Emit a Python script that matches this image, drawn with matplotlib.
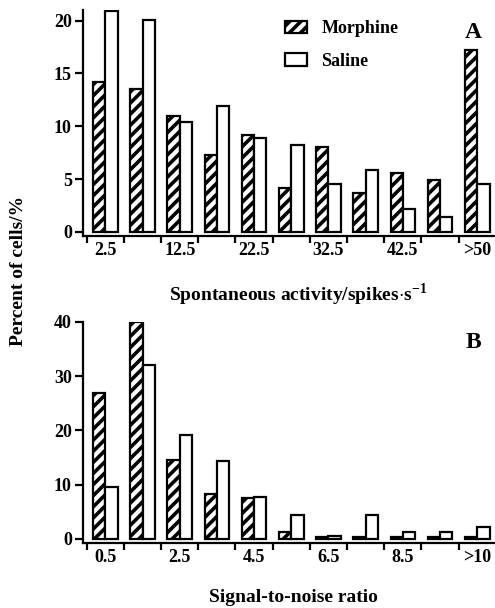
import numpy as np
import matplotlib
matplotlib.use('Agg')
import matplotlib.pyplot as plt
from matplotlib.patches import Patch

plt.rcParams['font.family'] = ['Liberation Serif', 'DejaVu Serif']
plt.rcParams['font.weight'] = 'bold'
plt.rcParams['mathtext.fontset'] = 'custom'
plt.rcParams['mathtext.rm'] = 'Liberation Serif:bold'
plt.rcParams['mathtext.bf'] = 'Liberation Serif:bold'
plt.rcParams['hatch.linewidth'] = 2.6

# Panel A: spontaneous activity bins (spikes/s)
act_bins = ['2.5', '7.5', '12.5', '17.5', '22.5', '27.5', '32.5', '37.5', '42.5', '47.5', '>50']
act_morphine = [14.2, 13.5, 11.0, 7.3, 9.2, 4.2, 8.0, 3.7, 5.6, 4.9, 17.2]
act_saline = [20.9, 20.1, 10.4, 11.9, 8.9, 8.2, 4.5, 5.9, 2.2, 1.4, 4.5]

# Panel B: signal-to-noise ratio bins
snr_bins = ['0.5', '1.5', '2.5', '3.5', '4.5', '5.5', '6.5', '7.5', '8.5', '9.5', '>10']
snr_morphine = [26.8, 40.0, 14.5, 8.3, 7.5, 1.2, 0.4, 0.3, 0.3, 0.3, 0.3]
snr_saline = [9.5, 32.0, 19.1, 14.4, 7.8, 4.5, 0.6, 4.5, 1.3, 1.3, 2.2]

W, H = 495, 608
fig = plt.figure(figsize=(W / 100, H / 100), dpi=100)

def px_axes(left, right, top, bottom):
    return fig.add_axes([left / W, 1 - bottom / H, (right - left) / W, (bottom - top) / H])

def draw_panel(ax, bins, morph, sal, ymax, yoff, yticks, letter, letter_y):
    x = np.arange(len(bins)) + 0.5
    bw = 0.33
    ax.bar(x - bw / 2, morph, bw, facecolor='white', edgecolor='black',
           hatch='///', linewidth=1.6, label='Morphine')
    ax.bar(x + bw / 2, sal, bw, facecolor='white', edgecolor='black',
           linewidth=1.6, label='Saline')
    ax.set_xlim(-0.1, 10.95)
    ax.set_ylim(-yoff, ymax)
    ax.set_yticks(yticks)
    ax.set_xticks(np.arange(len(bins)))
    ax.set_xticklabels([])
    ax.set_xticks(x[::2], minor=True)
    ax.set_xticklabels(bins[::2], minor=True)
    ax.tick_params(axis='x', which='major', length=5, width=1.6, direction='out')
    ax.tick_params(axis='x', which='minor', length=0, pad=4, labelsize=13)
    ax.tick_params(axis='y', length=6, width=1.6, direction='out', pad=2, labelsize=13)
    for side in ['top', 'right']:
        ax.spines[side].set_visible(False)
    for side in ['left', 'bottom']:
        ax.spines[side].set_linewidth(1.6)
    ax.text(0.949, letter_y, letter, transform=ax.get_yaxis_transform(),
            ha='center', va='center', fontsize=17, fontweight='bold')

axA = px_axes(83, 494, 10, 236)
draw_panel(axA, act_bins, act_morphine, act_saline, 21, 0.38, [0, 5, 10, 15, 20], 'A', 18.9)
axA.set_xlabel(r'Spontaneous activity/spikes$\cdot$s$^{\mathbf{-1}}$', fontsize=14, fontweight='bold')
axA.xaxis.set_label_coords(0.523, -0.2)

handles = [Patch(facecolor='white', edgecolor='black', hatch='///', linewidth=1.6),
           Patch(facecolor='white', edgecolor='black', linewidth=1.6)]
axA.legend(handles, ['Morphine', 'Saline'], loc='upper left',
           bbox_to_anchor=((285 - 83) / 411 - 0.03, 1.01), frameon=False,
           fontsize=13, handlelength=1.2, handleheight=0.7, handletextpad=0.8,
           labelspacing=0.85, borderaxespad=0.3)

axB = px_axes(83, 494, 321.7, 543.3)
draw_panel(axB, snr_bins, snr_morphine, snr_saline, 40, 0.8, [0, 10, 20, 30, 40], 'B', 36.1)
axB.set_xlabel('Signal-to-noise ratio', fontsize=14, fontweight='bold')
axB.xaxis.set_label_coords(0.513, -0.205)

fig.text(19 / W, 1 - 271 / H, 'Percent of cells/%', rotation=90, ha='center',
         va='center', fontsize=14, fontweight='bold')

fig.savefig('out.png', dpi=100)
